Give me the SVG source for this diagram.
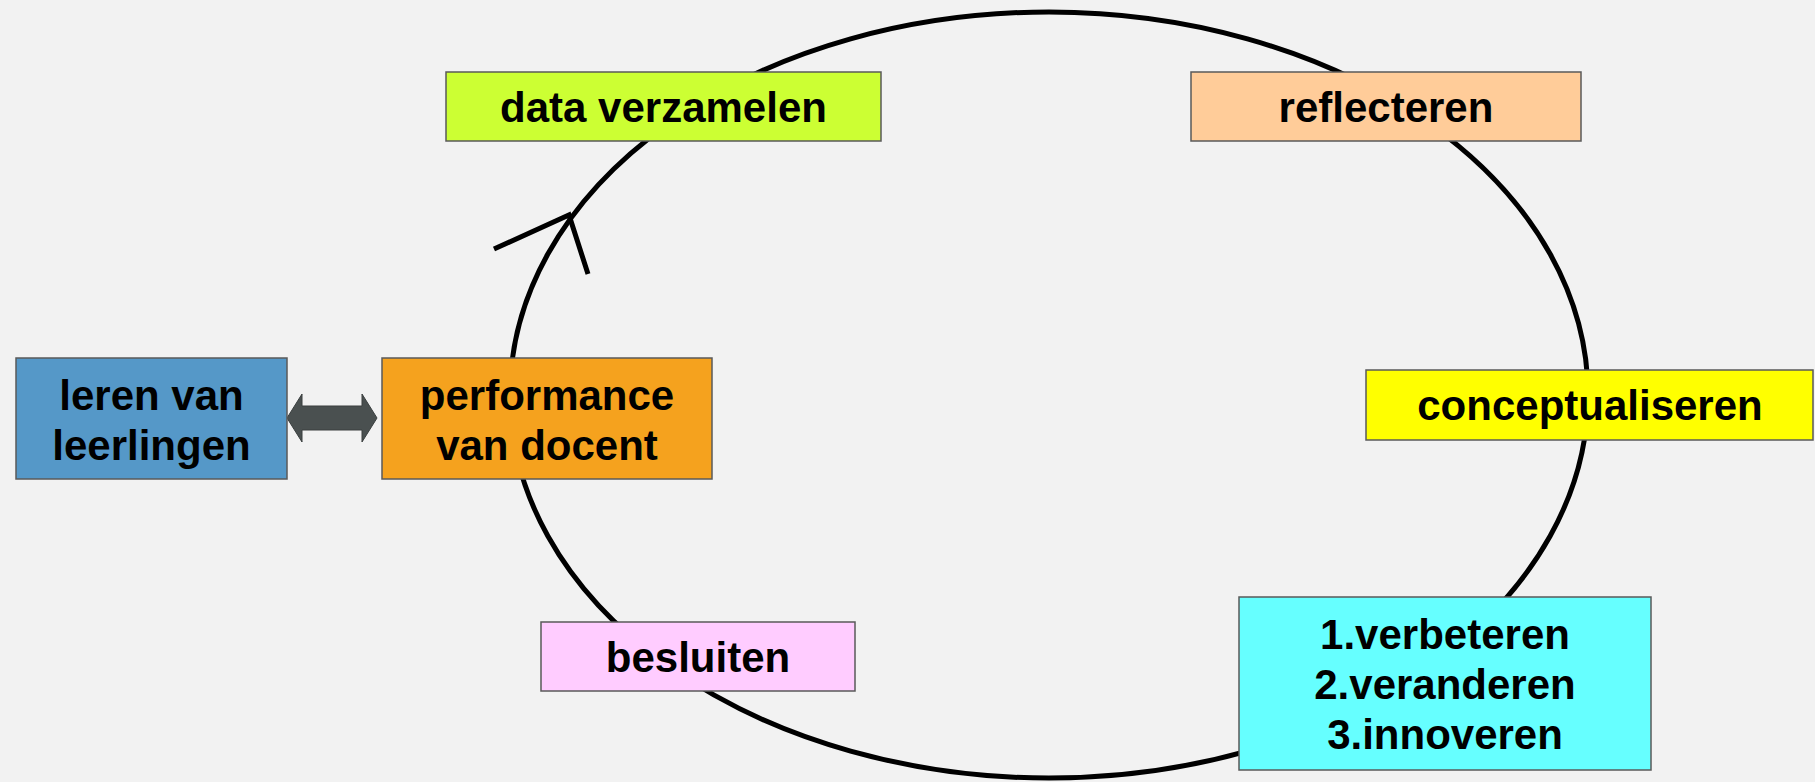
<svg xmlns="http://www.w3.org/2000/svg" width="1815" height="782" viewBox="0 0 1815 782">
<style>
.box{stroke:#5a5a5a;stroke-width:1.5}
.t{font-family:"Liberation Sans",Arial,sans-serif;font-weight:bold;font-size:42px;fill:#000;text-anchor:middle}
.cyc{fill:none;stroke:#000;stroke-width:5}
</style>
<rect width="1815" height="782" fill="#f2f2f2"/>
<g id="connectors">
<ellipse class="cyc" cx="1049" cy="395" rx="539" ry="383"/>
<polyline class="cyc" points="494,249 569,215 588,274" stroke-linejoin="miter"/>
<path d="M287,418 L302,394 L302,406 L362,406 L362,394 L377,418 L362,442 L362,430 L302,430 L302,442 Z" fill="#4a5050" stroke="#3a3f3f" stroke-width="1"/>
</g>
<g id="leren">
<rect class="box" x="16" y="358" width="271" height="121" fill="#5598c8"/>
<text class="t" x="151.5" y="410">leren van</text>
<text class="t" x="151.5" y="460">leerlingen</text>
</g>
<g id="performance">
<rect class="box" x="382" y="358" width="330" height="121" fill="#f5a21e"/>
<text class="t" x="547" y="410">performance</text>
<text class="t" x="547" y="460">van docent</text>
</g>
<g id="data">
<rect class="box" x="446" y="72" width="435" height="69" fill="#ccff33"/>
<text class="t" x="663.5" y="122">data verzamelen</text>
</g>
<g id="reflecteren">
<rect class="box" x="1191" y="72" width="390" height="69" fill="#ffcc99"/>
<text class="t" x="1386" y="122">reflecteren</text>
</g>
<g id="conceptualiseren">
<rect class="box" x="1366" y="370" width="447" height="70" fill="#ffff00"/>
<text class="t" x="1590" y="420">conceptualiseren</text>
</g>
<g id="acties">
<rect class="box" x="1239" y="597" width="412" height="173" fill="#66ffff"/>
<text class="t" x="1445" y="649">1.verbeteren</text>
<text class="t" x="1445" y="699">2.veranderen</text>
<text class="t" x="1445" y="749">3.innoveren</text>
</g>
<g id="besluiten">
<rect class="box" x="541" y="622" width="314" height="69" fill="#ffccff"/>
<text class="t" x="698" y="672">besluiten</text>
</g>
</svg>
